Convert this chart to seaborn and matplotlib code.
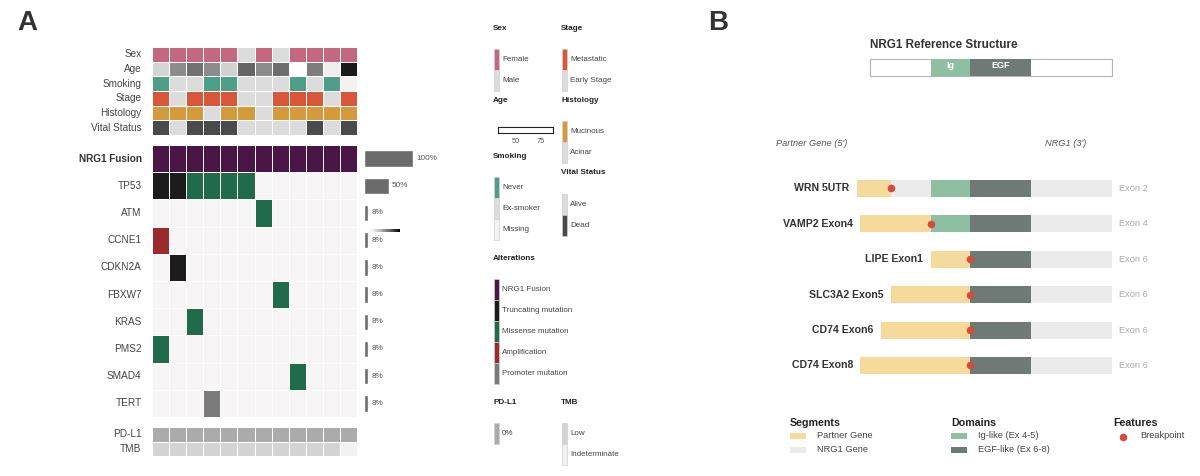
import numpy as np
import pandas as pd
import matplotlib
matplotlib.use("Agg")
import matplotlib.pyplot as plt
import seaborn as sns
from matplotlib.colors import ListedColormap, Normalize
from matplotlib.patches import Rectangle
from matplotlib.lines import Line2D
import matplotlib.cm as cm

sns.set_style("white")
plt.rcParams['font.family'] = ['Liberation Sans', 'DejaVu Sans']

W, H = 1200, 476

# ---------------- data: panel A ----------------
patients = [f"P{i}" for i in range(1, 13)]
sex = ["Female", "Female", "Female", "Female", "Female", "Male", "Female", "Male", "Female", "Female", "Female", "Female"]
age = [47, 62, 67, 62, 48, 70, 62, 68, 32, 65, 39, 83]
smoking = ["Never", "Ex-smoker", "Ex-smoker", "Never", "Never", "Ex-smoker", "Ex-smoker", "Ex-smoker",
           "Never", "Ex-smoker", "Never", "Missing"]
stage = ["Metastatic", "Early Stage", "Metastatic", "Metastatic", "Metastatic", "Early Stage", "Early Stage",
         "Metastatic", "Metastatic", "Metastatic", "Early Stage", "Metastatic"]
histology = ["Mucinous", "Mucinous", "Mucinous", "Acinar", "Mucinous", "Mucinous", "Acinar", "Mucinous",
             "Mucinous", "Mucinous", "Mucinous", "Mucinous"]
vital = ["Dead", "Alive", "Dead", "Dead", "Dead", "Alive", "Alive", "Alive", "Alive", "Dead", "Alive", "Dead"]
age_range = (32, 88)

genes = ["NRG1 Fusion", "TP53", "ATM", "CCNE1", "CDKN2A", "FBXW7", "KRAS", "PMS2", "SMAD4", "TERT"]
# alteration per gene: {patient column: type}
alterations = {
    "NRG1 Fusion": {c: "NRG1 Fusion" for c in range(12)},
    "TP53": {0: "Truncating mutation", 1: "Truncating mutation", 2: "Missense mutation",
             3: "Missense mutation", 4: "Missense mutation", 5: "Missense mutation"},
    "ATM": {6: "Missense mutation"},
    "CCNE1": {0: "Amplification"},
    "CDKN2A": {1: "Truncating mutation"},
    "FBXW7": {7: "Missense mutation"},
    "KRAS": {2: "Missense mutation"},
    "PMS2": {0: "Missense mutation"},
    "SMAD4": {8: "Missense mutation"},
    "TERT": {3: "Promoter mutation"},
}
freq = [100, 50, 8, 8, 8, 8, 8, 8, 8, 8]
pdl1 = ["0%"] * 12
tmb = ["Low"] * 11 + ["Indeterminate"]

# colours
ann_colors = {
    "Female": "#c4687f", "Male": "#dcdcdc",
    "Never": "#4f9e89", "Ex-smoker": "#dcdcdc", "Missing": "#f2f2f2",
    "Metastatic": "#d8573a", "Early Stage": "#dcdcdc",
    "Mucinous": "#d49a3c", "Acinar": "#dcdcdc",
    "Alive": "#dcdcdc", "Dead": "#4a4a4a",
    "0%": "#ababab", "Low": "#d3d3d3", "Indeterminate": "#f2f2f2",
}
alt_types = ["none", "NRG1 Fusion", "Truncating mutation", "Missense mutation", "Amplification", "Promoter mutation"]
alt_colors = ["#f8f5f6", "#4b1645", "#1c1c1c", "#1f6b4b", "#9a2a2c", "#7b7b7b"]

# ---------------- data: panel B ----------------
fusions = ["WRN 5UTR", "VAMP2 Exon4", "LIPE Exon1", "SLC3A2 Exon5", "CD74 Exon6", "CD74 Exon8"]
nrg1_exon = ["Exon 2", "Exon 4", "Exon 6", "Exon 6", "Exon 6", "Exon 6"]
partner_start = [-5.5, -4.0, 25.0, 8.5, 4.5, -4.0]
breakpoint = [8.5, 25.0, 41.5, 41.5, 41.5, 41.5]
nrg1_len = 100
ig_dom = (25.0, 41.5)
egf_dom = (41.5, 66.5)

c_partner = "#f6da9b"
c_nrg1 = "#ebebeb"
c_ig = "#8fbfa1"
c_egf = "#6f7a77"
c_bp = "#d84a3c"


def px(x0, y0, x1, y1):
    return [x0 / W, 1 - y1 / H, (x1 - x0) / W, (y1 - y0) / H]


def T(x, y, s, **kw):
    kw.setdefault("va", "center")
    return fig.text(x / W, 1 - y / H, s, **kw)


def box(x0, y0, x1, y1, fc, ec="none", lw=0.6):
    fig.patches.append(Rectangle((x0 / W, 1 - y1 / H), (x1 - x0) / W, (y1 - y0) / H,
                                 transform=fig.transFigure, fc=fc, ec=ec, lw=lw))


fig = plt.figure(figsize=(12, 4.76), dpi=100)
lab_col = "#444444"
grid_lw = 0.7

T(17, 23, "A", fontsize=20, fontweight="bold", color="#333333")
T(708, 23, "B", fontsize=20, fontweight="bold", color="#333333")

# ---- annotation heatmap ----
ann_rows = ["Sex", "Age", "Smoking", "Stage", "Histology", "Vital Status"]
ann_vals = [sex, age, smoking, stage, histology, vital]
cat_names = list(ann_colors.keys())
codes = np.zeros((6, 12))
mask_cat = np.zeros((6, 12), dtype=bool)
for r, vals in enumerate(ann_vals):
    if ann_rows[r] == "Age":
        mask_cat[r, :] = True
        continue
    codes[r] = [cat_names.index(v) for v in vals]
cat_cmap = ListedColormap([ann_colors[k] for k in cat_names])
ax_ann = fig.add_axes(px(152, 47, 357, 135))
sns.heatmap(pd.DataFrame(codes, index=ann_rows, columns=patients), mask=mask_cat, cmap=cat_cmap,
            vmin=-0.5, vmax=len(cat_names) - 0.5, cbar=False, linewidths=grid_lw, linecolor="white",
            yticklabels=True, ax=ax_ann)
age_mat = np.full((6, 12), np.nan)
age_mat[1] = age
sns.heatmap(pd.DataFrame(age_mat, index=ann_rows, columns=patients), mask=~mask_cat, cmap="Greys",
            vmin=age_range[0], vmax=age_range[1], cbar=False, linewidths=grid_lw, linecolor="white",
            yticklabels=True, ax=ax_ann)

# ---- alteration heatmap ----
alt_mat = np.zeros((len(genes), 12))
for g, gene in enumerate(genes):
    for c, t in alterations[gene].items():
        alt_mat[g, c] = alt_types.index(t)
ax_alt = fig.add_axes(px(152, 145, 357, 417))
sns.heatmap(pd.DataFrame(alt_mat, index=genes, columns=patients), cmap=ListedColormap(alt_colors),
            vmin=-0.5, vmax=len(alt_types) - 0.5, cbar=False, linewidths=grid_lw, linecolor="white",
            yticklabels=True, ax=ax_alt)

# ---- PD-L1 / TMB ----
bot_rows = ["PD-L1", "TMB"]
bot_codes = np.array([[cat_names.index(v) for v in pdl1], [cat_names.index(v) for v in tmb]], dtype=float)
ax_bot = fig.add_axes(px(152, 427, 357, 456))
sns.heatmap(pd.DataFrame(bot_codes, index=bot_rows, columns=patients), cmap=cat_cmap,
            vmin=-0.5, vmax=len(cat_names) - 0.5, cbar=False, linewidths=grid_lw, linecolor="white",
            yticklabels=True, ax=ax_bot)

for a in (ax_ann, ax_alt, ax_bot):
    a.set_xticks([])
    a.set_xlabel("")
    a.set_ylabel("")
    a.tick_params(axis="y", length=0, pad=7.5, labelsize=7.2, labelcolor=lab_col, rotation=0)
for t in ax_alt.get_yticklabels():
    if t.get_text() == "NRG1 Fusion":
        t.set_fontweight("bold")
        t.set_color("#333333")

# ---- frequency bars ----
ax_bar = fig.add_axes(px(364, 145, 413, 417))
freq_df = pd.DataFrame({"gene": genes, "pct": freq})
sns.barplot(data=freq_df, x="pct", y="gene", orient="h", color="#6b6b6b", width=0.6,
            saturation=1, ax=ax_bar)
ax_bar.set_xlim(0, 100)
ax_bar.set_ylim(len(genes) - 0.5, -0.5)
for i, v in enumerate(freq):
    ax_bar.annotate(f"{v}%", (v, i), xytext=(2.5, 0), textcoords="offset points",
                    va="center", ha="left", fontsize=5.9, color="#555555", annotation_clip=False)
ax_bar.axis("off")

# stray age colour strip
cax_strip = fig.add_axes(px(368, 228.5, 400, 231.5))
cb = fig.colorbar(cm.ScalarMappable(Normalize(*age_range), "Greys"), cax=cax_strip, orientation="horizontal")
cb.outline.set_visible(False)
cax_strip.set_xticks([])

# ---- panel A legends ----
tcol = "#222222"
leg_fs = 5.8


def legend_block(x, title, ty, items, y0, h=21):
    T(x, ty, title, fontsize=5.9, fontweight="bold", color=tcol)
    for k, (name, col) in enumerate(items):
        yy = y0 + k * h
        box(x + 1, yy, x + 6, yy + h, col, ec="#cfcfcf", lw=0.5)
        T(x + 9, yy + h / 2, name, fontsize=leg_fs, color=lab_col)


legend_block(493, "Sex", 28, [("Female", ann_colors["Female"]), ("Male", ann_colors["Male"])], 49)
legend_block(561, "Stage", 28, [("Metastatic", ann_colors["Metastatic"]), ("Early Stage", ann_colors["Early Stage"])], 49)
legend_block(561, "Histology", 101, [("Mucinous", ann_colors["Mucinous"]), ("Acinar", ann_colors["Acinar"])], 121)
legend_block(493, "Smoking", 157, [("Never", ann_colors["Never"]), ("Ex-smoker", ann_colors["Ex-smoker"]),
                                   ("Missing", ann_colors["Missing"])], 177)
legend_block(561, "Vital Status", 173, [("Alive", ann_colors["Alive"]), ("Dead", ann_colors["Dead"])], 194)
legend_block(493, "Alterations", 259, list(zip(alt_types[1:], alt_colors[1:])), 279)
legend_block(493, "PD-L1", 403, [("0%", ann_colors["0%"])], 423)
legend_block(561, "TMB", 403, [("Low", ann_colors["Low"]), ("Indeterminate", ann_colors["Indeterminate"])], 423)

T(493, 101, "Age", fontsize=5.9, fontweight="bold", color=tcol)
cax_age = fig.add_axes(px(498, 127, 553, 133))
cax_age.set_xlim(*age_range)
cax_age.set_yticks([])
cax_age.set_xticks([50, 75])
cax_age.tick_params(axis="x", length=2, width=0.6, labelsize=5.3, labelcolor="#555555", pad=1.5)
for s in cax_age.spines.values():
    s.set_linewidth(0.8)
    s.set_color("#222222")

# ---------------- panel B ----------------
ax_b = fig.add_axes(px(700, 0, 1200, 476))
sc = 2.42  # px per unit
x_left = -(870 - 700) / sc
x_right = 100 + (1200 - 1112) / sc
row_px = 35.4
y_top = -188.5 / row_px
y_bot = (476 - 188.5) / row_px
ax_b.set_xlim(x_left, x_right)
ax_b.set_ylim(y_bot, y_top)
ax_b.axis("off")

bh = 17 / row_px
rows = np.arange(len(fusions))
# NRG1 part
ax_b.barh(rows, [nrg1_len - b for b in breakpoint], left=breakpoint, height=bh, color=c_nrg1, lw=0)
# domains retained after the breakpoint
for (d0, d1), col in ((ig_dom, c_ig), (egf_dom, c_egf)):
    st = [max(b, d0) for b in breakpoint]
    wd = [max(d1 - s, 0) for s in st]
    ax_b.barh(rows, wd, left=st, height=bh, color=col, lw=0)
# partner part
ax_b.barh(rows, [b - s for b, s in zip(breakpoint, partner_start)], left=partner_start,
          height=bh, color=c_partner, lw=0)
ax_b.scatter(breakpoint, rows, s=30, color=c_bp, zorder=5, lw=0)
for i in rows:
    ax_b.text(partner_start[i] - 3, i, fusions[i], ha="right", va="center", fontsize=7.6,
              fontweight="bold", color="#333333")
    ax_b.text(nrg1_len + 3, i, nrg1_exon[i], ha="left", va="center", fontsize=6.7, color="#aaaaaa")

# reference structure
y_ref = (67.5 - 188.5) / row_px
ax_b.barh([y_ref], [nrg1_len], left=0, height=bh, color="white", edgecolor="#b5b5b5", lw=0.8)
ax_b.barh([y_ref], [ig_dom[1] - ig_dom[0]], left=ig_dom[0], height=bh, color=c_ig, lw=0)
ax_b.barh([y_ref], [egf_dom[1] - egf_dom[0]], left=egf_dom[0], height=bh, color=c_egf, lw=0)
ax_b.text(sum(ig_dom) / 2, y_ref - 0.06, "Ig", ha="center", va="center", fontsize=6.5,
          fontweight="bold", color="white")
ax_b.text(sum(egf_dom) / 2, y_ref - 0.06, "EGF", ha="center", va="center", fontsize=6.5,
          fontweight="bold", color="white")
T(870, 45, "NRG1 Reference Structure", fontsize=8.4, fontweight="bold", color="#333333", ha="left")

T(812, 143, "Partner Gene (5')", fontsize=6.7, style="italic", color="#555555", ha="center")
T(1066, 143, "NRG1 (3')", fontsize=6.7, style="italic", color="#555555", ha="center")

# panel B legend
lfs = 6.7
tfs = 7.7
T(790, 423, "Segments", fontsize=tfs, fontweight="bold", color="#222222")
box(790, 433, 806, 439, c_partner)
T(817, 436, "Partner Gene", fontsize=lfs, color=lab_col)
box(790, 447, 806, 453, c_nrg1)
T(817, 450, "NRG1 Gene", fontsize=lfs, color=lab_col)
T(951, 423, "Domains", fontsize=tfs, fontweight="bold", color="#222222")
box(951, 433, 967, 439, c_ig)
T(978, 436, "Ig-like (Ex 4-5)", fontsize=lfs, color=lab_col)
box(951, 447, 967, 453, c_egf)
T(978, 450, "EGF-like (Ex 6-8)", fontsize=lfs, color=lab_col)
T(1113, 423, "Features", fontsize=tfs, fontweight="bold", color="#222222")
fig.lines.append(Line2D([1123 / W], [1 - 437 / H], transform=fig.transFigure, marker="o",
                        ms=5.5, color=c_bp, mec="none", ls="none"))
T(1140, 436, "Breakpoint", fontsize=lfs, color=lab_col)

fig.savefig("out.png", dpi=100, facecolor="white")
